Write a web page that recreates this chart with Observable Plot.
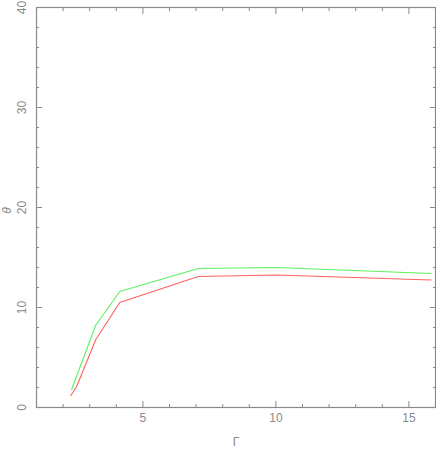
<!DOCTYPE html>
<html>
<head>
<meta charset="utf-8">
<script src="https://cdn.jsdelivr.net/npm/d3@7"></script>
<script src="https://cdn.jsdelivr.net/npm/@observablehq/plot@0.6"></script>
<style>
  html, body { margin: 0; padding: 0; background: #fff; }
</style>
</head>
<body>
<div id="chart"></div>
<script>
const gammaGreen = [2.32, 3.23, 4.13, 7.08, 10.0, 15.83];
const thetaGreen = [1.8, 8.25, 11.6, 13.9, 14.0, 13.4];
const gammaRed = [2.29, 2.51, 3.23, 4.13, 7.08, 10.0, 15.83];
const thetaRed = [1.2, 2.1, 6.8, 10.5, 13.1, 13.25, 12.75];
const xMajor = [5, 10, 15];
const xMinor = [2, 3, 4, 6, 7, 8, 9, 11, 12, 13, 14, 16];
const yMajor = [0, 10, 20, 30, 40];
const yMinor = [2, 4, 6, 8, 12, 14, 16, 18, 22, 24, 26, 28, 32, 34, 36, 38];
const xLabel = "Γ";
const yLabel = "θ";

const green = gammaGreen.map((g, i) => ({g, t: thetaGreen[i]}));
const red = gammaRed.map((g, i) => ({g, t: thetaRed[i]}));
const axisColor = "#8a8a8a";
const none = () => "";

const chart = Plot.plot({
  width: 436,
  height: 449,
  marginLeft: 36,
  marginRight: 1,
  marginTop: 7,
  marginBottom: 42,
  x: {domain: [1, 16]},
  y: {domain: [0, 40]},
  style: {background: "white", color: axisColor, fontFamily: "Liberation Sans, DejaVu Sans, sans-serif", fontSize: "12px", overflow: "visible"},
  marks: [
    Plot.frame({stroke: axisColor, strokeWidth: 1.2}),
    Plot.axisX(xMajor, {anchor: "bottom", tickSize: -6, tickFormat: none, label: null, stroke: axisColor}),
    Plot.axisX(xMinor, {anchor: "bottom", tickSize: -3, tickFormat: none, label: null, stroke: axisColor}),
    Plot.axisX(xMajor, {anchor: "top", tickSize: -6, tickFormat: none, label: null, stroke: axisColor}),
    Plot.axisX(xMinor, {anchor: "top", tickSize: -3, tickFormat: none, label: null, stroke: axisColor}),
    Plot.axisY(yMajor, {anchor: "left", tickSize: -6, tickFormat: none, label: null, stroke: axisColor}),
    Plot.axisY(yMinor, {anchor: "left", tickSize: -3, tickFormat: none, label: null, stroke: axisColor}),
    Plot.axisY(yMajor, {anchor: "right", tickSize: -6, tickFormat: none, label: null, stroke: axisColor}),
    Plot.axisY(yMinor, {anchor: "right", tickSize: -3, tickFormat: none, label: null, stroke: axisColor}),
    Plot.text(xMajor, {x: d => d, frameAnchor: "bottom", lineAnchor: "middle", textAnchor: "middle", dy: 11, text: d => String(d), fill: axisColor}),
    Plot.text(yMajor, {y: d => d, frameAnchor: "left", textAnchor: "middle", lineAnchor: "middle", dx: -14, rotate: -90, text: d => String(d), fill: axisColor}),
    Plot.text([xLabel], {frameAnchor: "bottom", lineAnchor: "middle", textAnchor: "middle", dy: 35, text: d => d, fill: axisColor}),
    Plot.text([yLabel], {frameAnchor: "left", textAnchor: "middle", lineAnchor: "middle", dx: -29, dy: 3, rotate: -90, text: d => d, fill: axisColor, fontStyle: "italic"}),
    Plot.line(red, {x: "g", y: "t", stroke: "#ff6060", strokeWidth: 1.1}),
    Plot.line(green, {x: "g", y: "t", stroke: "#5ef05e", strokeWidth: 1.1})
  ]
});
document.getElementById("chart").appendChild(chart);
</script>
</body>
</html>
